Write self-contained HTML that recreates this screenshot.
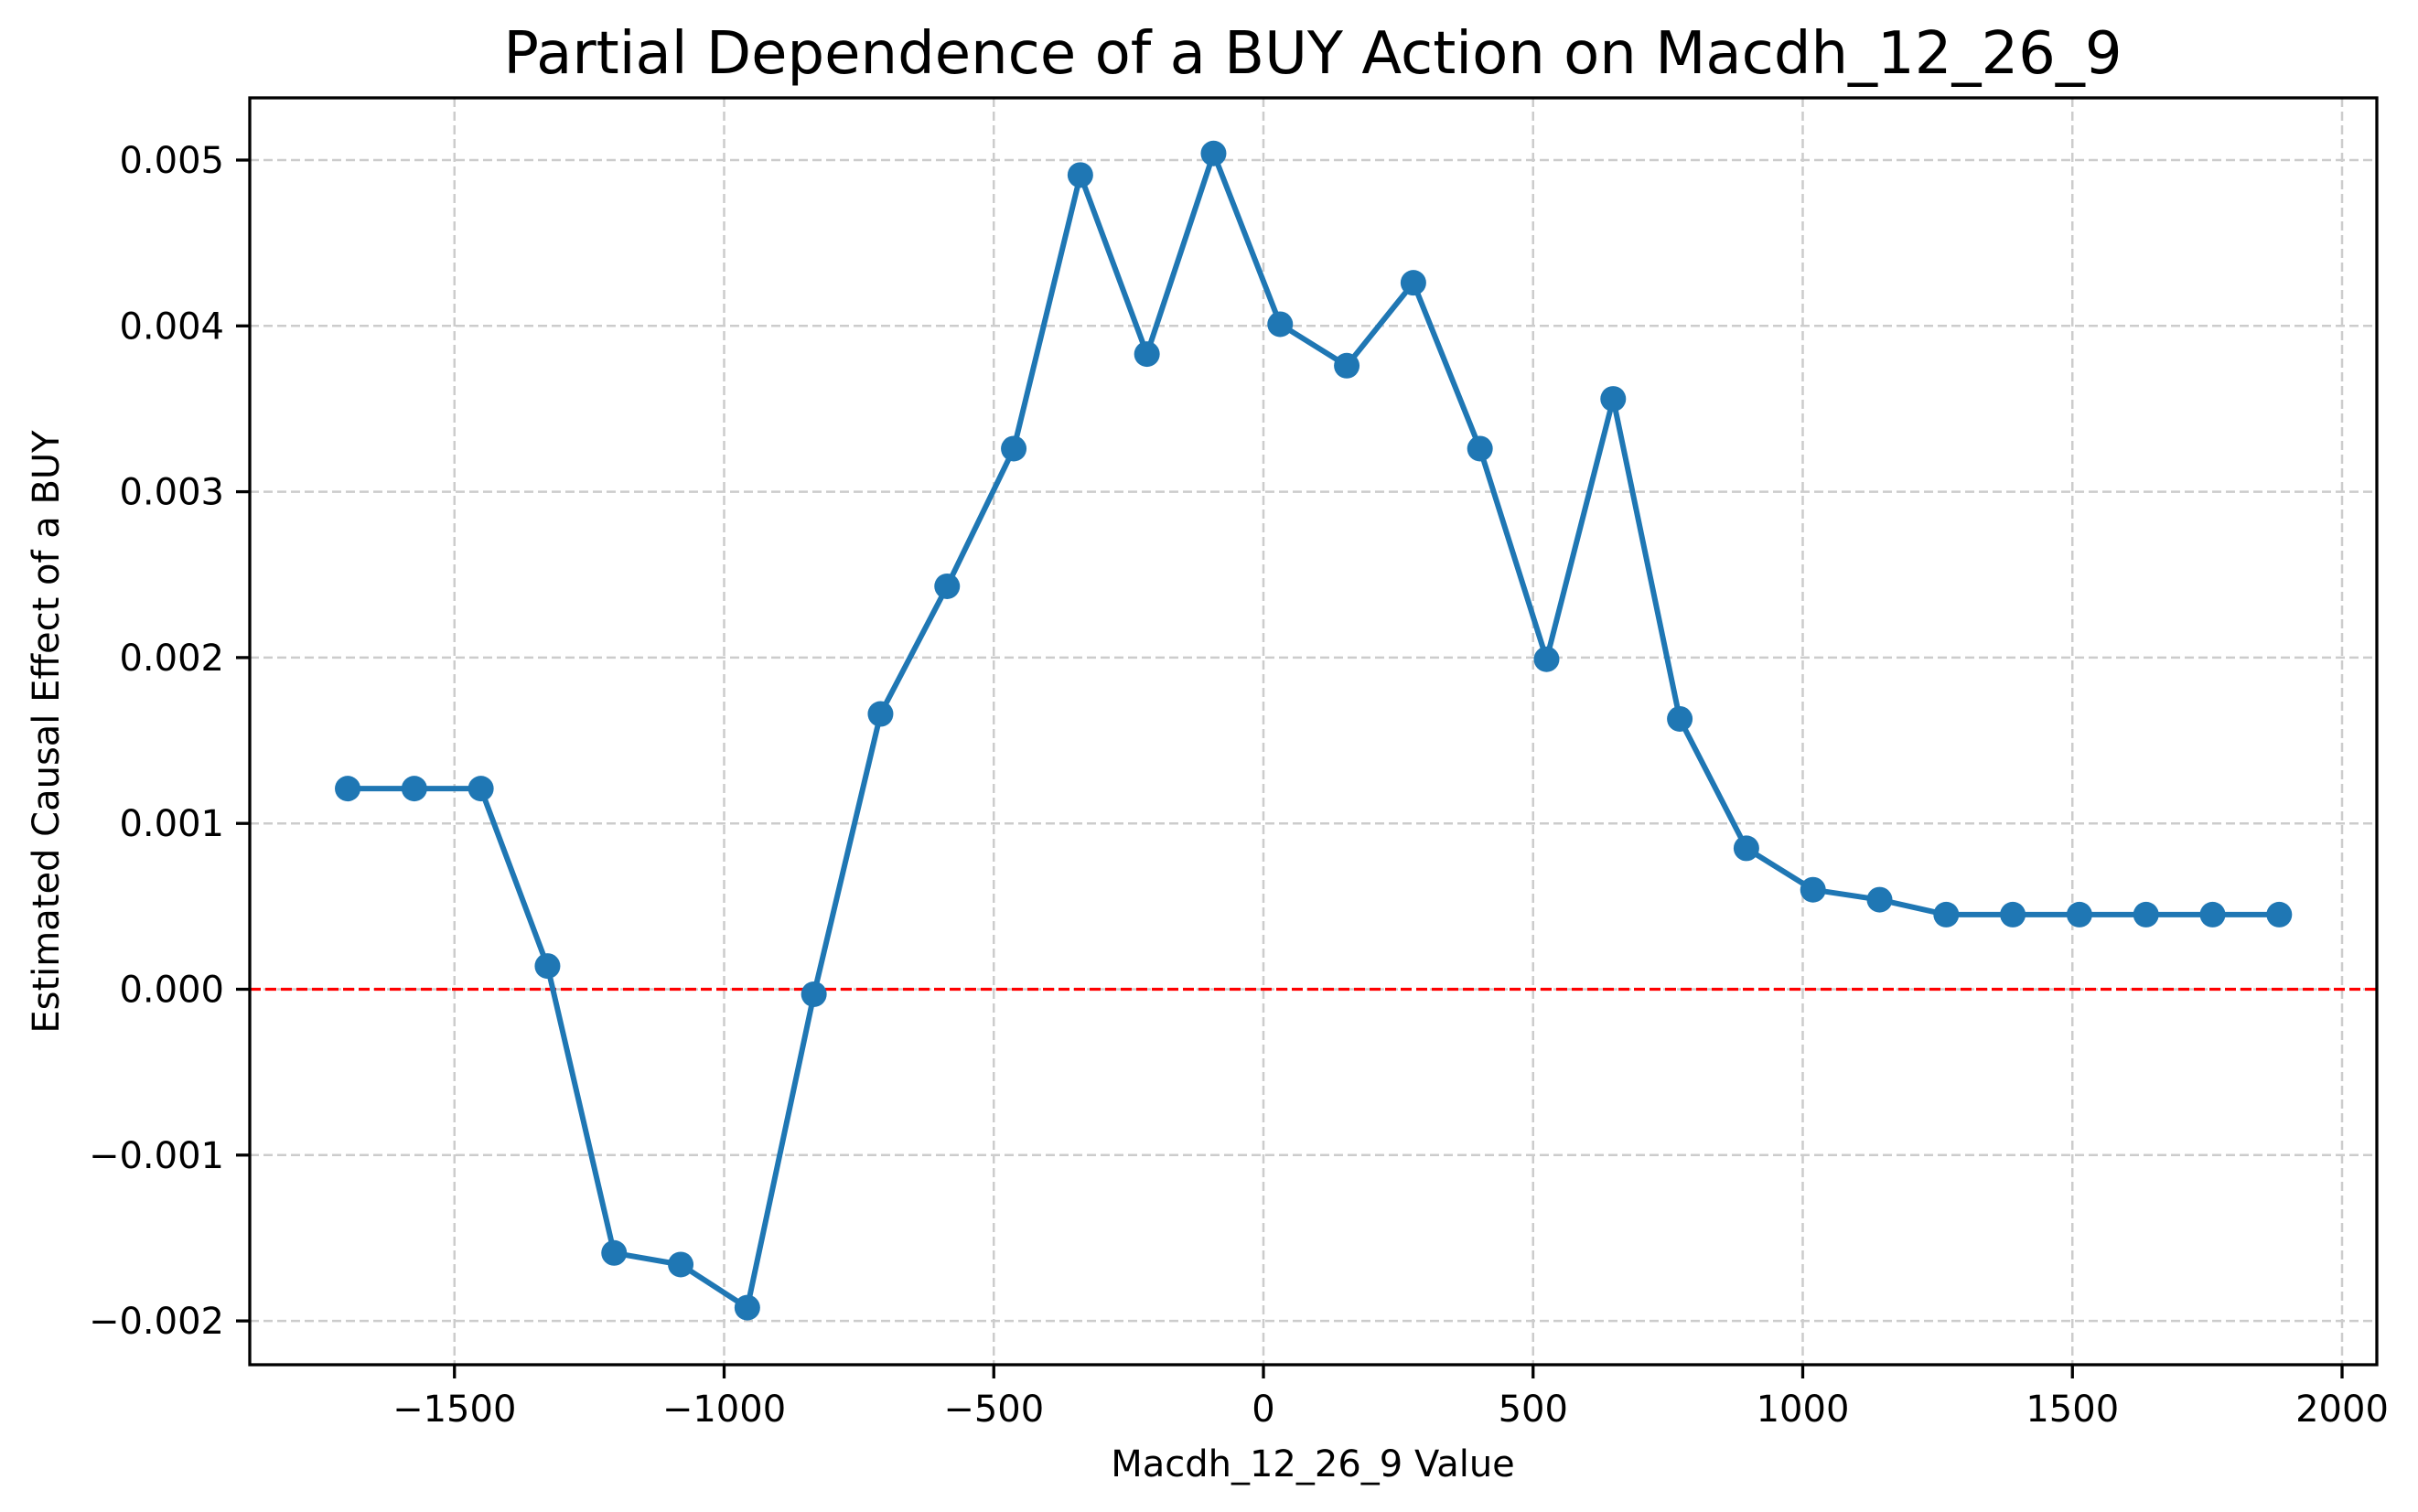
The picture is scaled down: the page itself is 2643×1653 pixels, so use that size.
<!DOCTYPE html>
<html><head><meta charset="utf-8"><style>
html,body{margin:0;padding:0;background:#fff;}
svg{display:block;font-family:"DejaVu Sans","Liberation Sans",sans-serif;}
</style></head><body>
<svg id="chart" width="2643" height="1653" viewBox="0 0 2643 1653" xmlns="http://www.w3.org/2000/svg">
<rect x="0" y="0" width="2643" height="1653" fill="#fff"/>
<text x="1435" y="80" font-size="64" text-anchor="middle">Partial Dependence of a BUY Action on Macdh_12_26_9</text>
<text x="1435" y="1614" font-size="40" text-anchor="middle">Macdh_12_26_9 Value</text>
<text transform="translate(64,800) rotate(-90)" font-size="40" text-anchor="middle">Estimated Causal Effect of a BUY</text>
<g id="grid"></g>
<g id="ticks"></g>
<g id="marks"></g>
<rect x="273" y="107" width="2325" height="1385" fill="none" stroke="#000" stroke-width="3.3"/>
</svg>
<script>
const xValues = [-1698,-1574.5,-1451,-1327.5,-1204,-1080.5,-957,-833.5,-710,-586.5,-463,-339.5,-216,-92.5,31,154.5,278,401.5,525,648.5,772,895.5,1019,1142.5,1266,1389.5,1513,1636.5,1760,1883.5];
const yValues = [0.00121,0.00121,0.00121,0.00014,-0.00159,-0.00166,-0.00192,-0.00003,0.00166,0.00243,0.00326,0.00491,0.00383,0.00504,0.00401,0.00376,0.00426,0.00326,0.00199,0.00356,0.00163,0.00085,0.0006,0.00054,0.00045,0.00045,0.00045,0.00045,0.00045,0.00045];
const xTicks = [-1500,-1000,-500,0,500,1000,1500,2000];
const xTickLabels = ["\u22121500","\u22121000","\u2212500","0","500","1000","1500","2000"];
const yTicks = [-0.002,-0.001,0,0.001,0.002,0.003,0.004,0.005];
const yTickLabels = ["\u22120.002","\u22120.001","0.000","0.001","0.002","0.003","0.004","0.005"];
const refLineValue = [0];

const NS = "http://www.w3.org/2000/svg";
const L = 273, R = 2598, T = 107, B = 1492;
function xs(v){ return 1381 + (v - 0) * (2560 - 1381) / 2000; }
function ys(v){ return 1081.5 - v * 181300; }
function mk(tag, attrs, parent){
  const e = document.createElementNS(NS, tag);
  for (const k in attrs) e.setAttribute(k, attrs[k]);
  parent.appendChild(e);
  return e;
}
const grid = document.getElementById('grid');
const ticks = document.getElementById('ticks');
const marks = document.getElementById('marks');

xTicks.forEach((v, i) => {
  const x = xs(v);
  const g = mk('line', {x1:x, x2:x, y1:T, y2:B, stroke:'#cccccc', 'stroke-width':2.5, 'stroke-dasharray':'10,5'}, grid);
  
  
  const t = mk('line', {x1:x, x2:x, y1:B, y2:B+15, stroke:'#000', 'stroke-width':3.3}, ticks);
  
  
  const lb = mk('text', {x:x, y:B+62, 'font-size':40, 'text-anchor':'middle'}, ticks);
  
  
  lb.textContent = xTickLabels[i];
});
yTicks.forEach((v, i) => {
  const y = ys(v);
  const g = mk('line', {x1:L, x2:R, y1:y, y2:y, stroke:'#cccccc', 'stroke-width':2.5, 'stroke-dasharray':'10,5'}, grid);
  
  
  const t = mk('line', {x1:L-15, x2:L, y1:y, y2:y, stroke:'#000', 'stroke-width':3.3}, ticks);
  
  
  const lb = mk('text', {x:L-28, y:y+14, 'font-size':40, 'text-anchor':'end'}, ticks);
  
  
  lb.textContent = yTickLabels[i];
});
refLineValue.forEach(v => {
  const r = mk('line', {x1:L, x2:R, y1:ys(v), y2:ys(v), stroke:'#ff0000', 'stroke-width':3.3, 'stroke-dasharray':'12,5'}, marks);
  
  
});
const pts = xValues.map((v, i) => xs(v).toFixed(1) + ',' + ys(yValues[i]).toFixed(1)).join(' ');
const line = mk('polyline', {points:pts, fill:'none', stroke:'#1f77b4', 'stroke-width':6, 'stroke-linejoin':'round'}, marks);


xValues.forEach((v, i) => {
  const c = mk('circle', {cx:xs(v), cy:ys(yValues[i]), r:14, fill:'#1f77b4'}, marks);
  
  
});
</script>
</body></html>
